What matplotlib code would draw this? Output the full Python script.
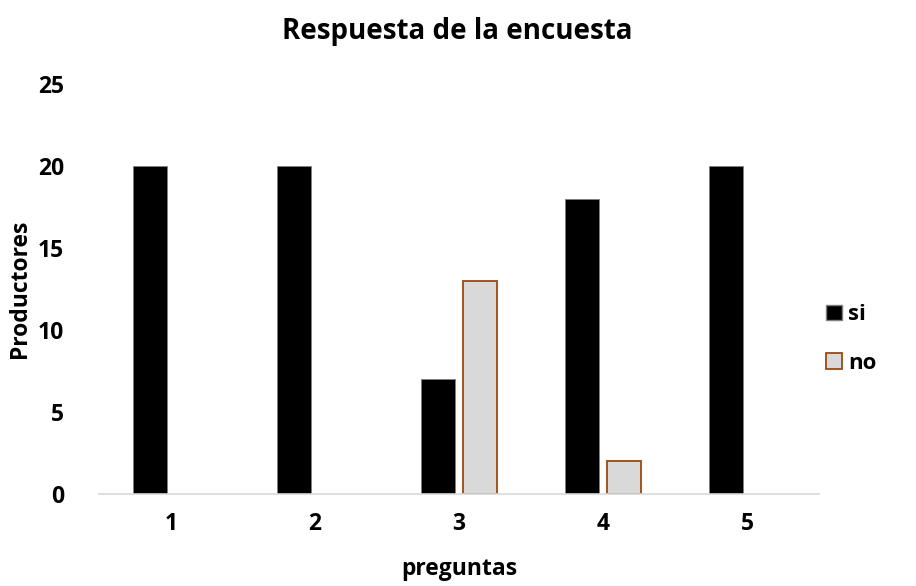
import matplotlib
matplotlib.use("Agg")
import matplotlib.pyplot as plt
import numpy as np
from matplotlib.patches import Patch

preguntas = ["1", "2", "3", "4", "5"]
si = [20, 20, 7, 18, 20]
no = [0, 0, 13, 2, 0]
yticks = [0, 5, 10, 15, 20, 25]

plt.rcParams['font.family'] = ['Open Sans', 'DejaVu Sans']
plt.rcParams['font.weight'] = 'bold'

fig = plt.figure(figsize=(9.16, 5.86), dpi=100)
ax = fig.add_axes([99/916, 92/586, 720/916, 410/586])

x = np.arange(len(preguntas))
w = 0.236
off = 0.146
ax.bar(x - off, si, width=w, color='black', edgecolor='#7f7f7f', linewidth=0.6, label='si')
no_vals = [v if v > 0 else np.nan for v in no]
ax.bar(x + off, no_vals, width=w, color='#d9d9d9', edgecolor='#9e480e', linewidth=1.3, label='no')

ax.set_xlim(-0.5, len(preguntas) - 0.5)
ax.set_ylim(0, 25)
ax.set_yticks(yticks)
ax.set_xticks(x)
ax.set_xticklabels(preguntas)
for s in ['top', 'right', 'left']:
    ax.spines[s].set_visible(False)
ax.spines['bottom'].set_color('#d9d9d9')
ax.spines['bottom'].set_linewidth(1.2)
ax.tick_params(axis='both', length=0, labelsize=16.5)
ax.tick_params(axis='y', pad=25)
ax.tick_params(axis='x', pad=13)
for t in ax.get_xticklabels() + ax.get_yticklabels():
    t.set_fontweight('bold')

ax.set_xlabel('preguntas', fontsize=16.5, fontweight='bold', labelpad=15)
ax.set_ylabel('Productores', fontsize=16.5, fontweight='bold', labelpad=4)
fig.text(457/916, 1 - 31/586, 'Respuesta de la encuesta', ha='center', va='center',
         fontsize=20, fontweight='bold')

handles = [Patch(facecolor='black', edgecolor='#7f7f7f', label='si'),
           Patch(facecolor='#d9d9d9', edgecolor='#9e480e', linewidth=1.3, label='no')]
fig.legend(handles=handles, loc='center left', bbox_to_anchor=(806/916, 1 - 339/586),
           frameon=False, handlelength=0.7, handleheight=0.7,
           handletextpad=0.3, labelspacing=1.25, prop={'weight': 'bold', 'size': 16})

fig.savefig('out.png', dpi=100)
